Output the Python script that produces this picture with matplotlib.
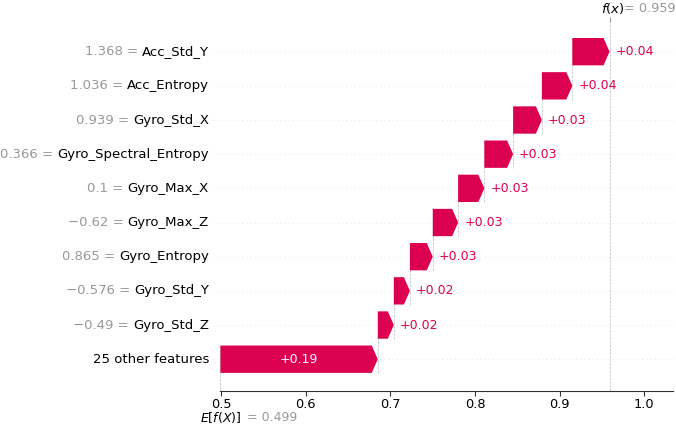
import matplotlib
matplotlib.use("Agg")
import matplotlib.pyplot as plt
import numpy as np

# waterfall data (top row first)
feature_names = ["Acc_Std_Y", "Acc_Entropy", "Gyro_Std_X", "Gyro_Spectral_Entropy",
                 "Gyro_Max_X", "Gyro_Max_Z", "Gyro_Entropy", "Gyro_Std_Y", "Gyro_Std_Z"]
feature_values = [1.368, 1.036, 0.939, 0.366, 0.1, -0.62, 0.865, -0.576, -0.49]
shap_values = [0.044, 0.036, 0.034, 0.034, 0.031, 0.030, 0.027, 0.019, 0.019]
other_label = "25 other features"
other_value = 0.186
base_value = 0.499
x_ticks = [0.5, 0.6, 0.7, 0.8, 0.9, 1.0]

red = "#dc0050"
gray = "#999999"


def fmt(v):
    s = "%0.03f" % v
    s = s.rstrip("0").rstrip(".") if "." in s else s
    return s.replace("-", "\u2212")


prefixes = [fmt(v) + " = " for v in feature_values] + [""]
names = feature_names + [other_label]
values = shap_values + [other_value]
n = len(values)
rows = np.arange(n - 1, -1, -1)
fx = base_value + sum(values)

fig = plt.figure(figsize=(6.76, 4.24), dpi=100)
ax = fig.add_axes([220 / 676, (424 - 390.7) / 424, 453 / 676, (390.7 - 21.7) / 424])
xmin, xmax = 0.4985, 1.034
px_per_unit = 453 / (xmax - xmin)
hl = 6 / px_per_unit

# horizontal guide lines
for r in rows:
    ax.plot([-0.016, 1], [r, r], transform=ax.get_yaxis_transform(), color="#cccccc",
            lw=0.5, dashes=(1, 5), zorder=-1, clip_on=False)

ax.axvline(fx, 0, 1, color="#bbbbbb", linestyle="--", linewidth=0.5, zorder=-1)

renderer = fig.canvas.get_renderer()
loc = fx
for r, val in zip(rows, values):
    left = loc - val
    ax.arrow(left, r, max(val - hl, 1e-6), 0, head_length=min(val, hl), width=0.8,
             head_width=0.8, color=red, lw=0, length_includes_head=False)
    ax.plot([left, left], [r - 1 - 0.4, r + 0.4], color="#bbbbbb", linestyle="--",
            linewidth=0.5, zorder=-1)
    txt = ax.text(left + val / 2, r, "%+0.02f" % val, ha="center", va="center",
                  color="white", fontsize=9)
    tw = txt.get_window_extent(renderer=renderer).width
    if tw > val * px_per_unit - 4:
        txt.remove()
        ax.annotate("%+0.02f" % val, xy=(left + val, r), xytext=(6, 0),
                    textcoords="offset pixels", ha="left", va="center",
                    color=red, fontsize=9)
    loc = left

# y labels: black name, gray "value = " in front of it
for r, pre, nm in zip(rows, prefixes, names):
    t = ax.annotate(nm, xy=(0, r), xycoords=("axes fraction", "data"), xytext=(-11, 0),
                    textcoords="offset pixels", ha="right", va="center", color="black",
                    fontsize=9.5)
    w = t.get_window_extent(renderer=renderer).width
    if pre:
        ax.annotate(pre, xy=(0, r), xycoords=("axes fraction", "data"), xytext=(-11 - w, 0),
                    textcoords="offset pixels", ha="right", va="center", color=gray,
                    fontsize=9.5)

ax.set_xlim(xmin, xmax)
ax.set_ylim(-0.922, 9.877)
ax.set_yticks([])
ax.set_xticks(x_ticks)
ax.set_xticklabels([str(t) for t in x_ticks], fontsize=9.3)
ax.tick_params(axis="x", length=3.5, width=0.8, color="#333333", pad=1.5)
for s in ["left", "right", "top"]:
    ax.spines[s].set_visible(False)
ax.spines["bottom"].set_color("#333333")

# top tick for f(x)
ax_top = ax.twiny()
ax_top.set_xlim(xmin, xmax)
ax_top.set_xticks([fx])
ax_top.set_xticklabels([""])
ax_top.tick_params(axis="x", length=3.5, width=0.8, color=gray)
for s in ax_top.spines.values():
    s.set_visible(False)

ax.annotate("$f(x)$", xy=(fx, 1), xycoords=("data", "axes fraction"), xytext=(-9, 13.7),
            textcoords="offset pixels", ha="left", va="center", color="black", fontsize=9.5)
ax.annotate("= " + fmt(fx), xy=(fx, 1), xycoords=("data", "axes fraction"), xytext=(14.5, 13.7),
            textcoords="offset pixels", ha="left", va="center", color=gray, fontsize=9.3)
ax.annotate("$E[f(X)]$", xy=(base_value, 0), xycoords=("data", "axes fraction"),
            xytext=(-20.5, -27), textcoords="offset pixels", ha="left", va="center",
            color="black", fontsize=9)
ax.annotate("= " + fmt(base_value), xy=(base_value, 0), xycoords=("data", "axes fraction"),
            xytext=(26.5, -27), textcoords="offset pixels", ha="left", va="center",
            color=gray, fontsize=9)

fig.savefig("out.png", dpi=100)
